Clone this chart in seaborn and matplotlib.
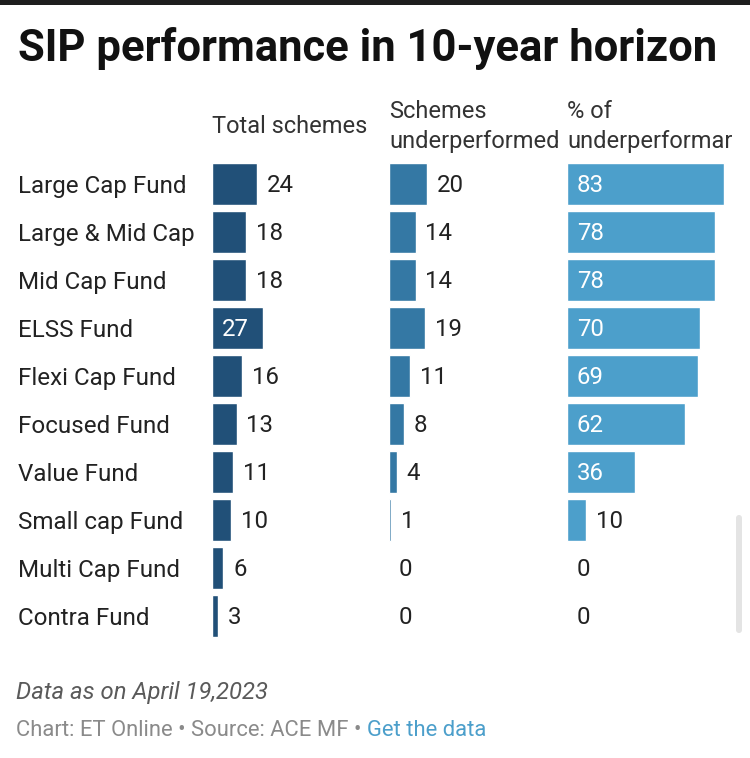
import matplotlib
matplotlib.use("Agg")
import matplotlib.pyplot as plt
import seaborn as sns
from matplotlib.patches import Rectangle, FancyBboxPatch

categories = ["Large Cap Fund", "Large & Mid Cap", "Mid Cap Fund", "ELSS Fund",
              "Flexi Cap Fund", "Focused Fund", "Value Fund", "Small cap Fund",
              "Multi Cap Fund", "Contra Fund"]
total_schemes = [24, 18, 18, 27, 16, 13, 11, 10, 6, 3]
underperformed = [20, 14, 14, 19, 11, 8, 4, 1, 0, 0]
pct_under = [83, 78, 78, 70, 69, 62, 36, 10, 0, 0]
headers = ["Total schemes", "Schemes\nunderperformed", "% of\nunderperformar"]
colors = ["#215078", "#3478a4", "#4c9fcb"]

sns.set_theme(style="white")
plt.rcParams["font.family"] = ["Roboto", "DejaVu Sans"]

W, H = 750, 758
fig = plt.figure(figsize=(7.5, 7.58), dpi=100)

def fx(px):
    return px / W

def fy(px):
    return 1 - px / H

lefts = [212, 389, 567]
col_w = 163
top_px, bot_px = 160, 640
series = [total_schemes, underperformed, pct_under]

for k, (vals, col, hdr) in enumerate(zip(series, colors, headers)):
    ax = fig.add_axes([fx(lefts[k]), fy(bot_px), col_w / W, (bot_px - top_px) / H])
    sns.barplot(x=vals, y=categories, orient="h", color=col, saturation=1,
                width=0.875, ax=ax)
    ax.set_xlim(0, 86)
    ax.set_ylim(9.5, -0.5)
    sns.despine(ax=ax, left=True, bottom=True)
    ax.set_xticks([])
    ax.set_xlabel("")
    ax.set_ylabel("")
    if k == 0:
        ax.tick_params(axis="y", length=0, pad=(lefts[0] - 18) * 0.72, labelsize=17.4,
                       labelcolor="#222222")
        for lab in ax.get_yticklabels():
            lab.set_horizontalalignment("left")
    else:
        ax.set_yticks([])
    for i, v in enumerate(vals):
        if v > 25:
            ax.annotate(str(v), (0, i), xytext=(7, -1), textcoords="offset points",
                        va="center", ha="left", fontsize=17.3, color="white")
        else:
            ax.annotate(str(v), (v, i), xytext=(7, -1), textcoords="offset points",
                        va="center", ha="left", fontsize=17.3, color="#222222")
    fig.text(fx(lefts[k]), fy(126.5), hdr, ha="left", va="center", fontsize=17,
             color="#333333", linespacing=1.36)

fig.text(fx(18), fy(48), "SIP performance in 10-year horizon", ha="left",
         va="center", fontsize=31.4, fontweight="bold", color="#111111")

fig.text(fx(16), fy(692), "Data as on April 19,2023", ha="left", va="center",
         fontsize=17.2, style="italic", color="#5a5a5a")
src = fig.text(fx(16), fy(731), "Chart: ET Online \u2022 Source: ACE MF \u2022 ",
               ha="left", va="center", fontsize=15.8, color="#8a8a8a")
fig.canvas.draw()
bb = src.get_window_extent().transformed(fig.transFigure.inverted())
fig.text(bb.x1, fy(731), "Get the data", ha="left", va="center", fontsize=15.8,
         color="#4c9fcb")

# top dark band and scrollbar seen in the screenshot
fig.patches.append(Rectangle((0, fy(5)), 1, 5 / H, transform=fig.transFigure,
                             facecolor="#1e1e1e", edgecolor="none"))
fig.patches.append(FancyBboxPatch((fx(736), fy(633)), 6 / W, 118 / H,
                                  boxstyle="round,pad=0,rounding_size=0.004",
                                  transform=fig.transFigure,
                                  facecolor="#e4e4e4", edgecolor="none"))

fig.savefig("out.png", dpi=100)
